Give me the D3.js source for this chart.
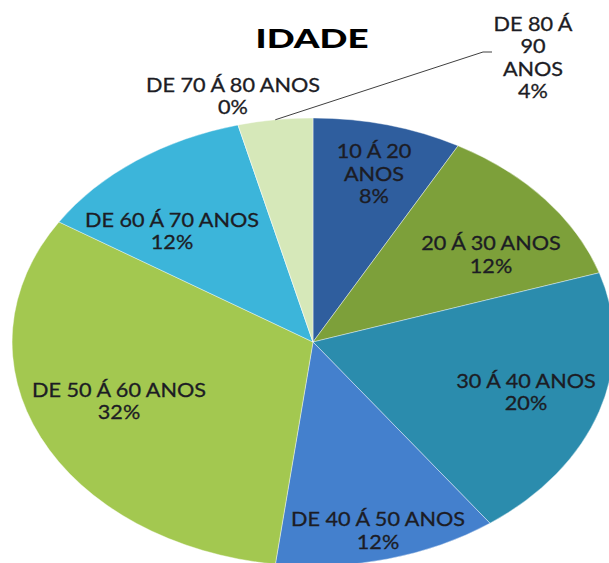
<!DOCTYPE html>
<html>
<head>
<meta charset="utf-8">
<script src="https://cdn.jsdelivr.net/npm/d3@7"></script>
<style>
  html, body { margin: 0; padding: 0; background: #ffffff; }
  svg { display: block; }
</style>
</head>
<body>
<svg id="chart" width="609" height="563"></svg>
<script>
// ---- data ----
const title = "IDADE";
const categories = ["10 Á 20 ANOS", "20 Á 30 ANOS", "30 Á 40 ANOS", "DE 40 Á 50 ANOS",
                    "DE 50 Á 60 ANOS", "DE 60 Á 70 ANOS", "DE 70 Á 80 ANOS", "DE 80 Á 90 ANOS"];
const values = [8, 12, 20, 12, 32, 12, 0, 4];
const labelLines = [
  ["10 Á 20", "ANOS"],
  ["20 Á 30 ANOS"],
  ["30 Á 40 ANOS"],
  ["DE 40 Á 50 ANOS"],
  ["DE 50 Á 60 ANOS"],
  ["DE 60 Á 70 ANOS"],
  ["DE 70 Á 80 ANOS"],
  ["DE 80 Á", "90", "ANOS"]
];

// ---- style / layout ----
const colors = ["#2F5E9E", "#7DA03A", "#2B8CAD", "#4480CD", "#A3C850", "#3CB5DA", "#C0504D", "#D6E8B9"];
const cx = 313, cy = 342, rx = 301, ry = 224;
// label block centres, relative to the pie centre
const labelOffset = [[61, -168], [178, -87], [213, 50.5], [65, 189], [-194, 59.5], [-141, -110.5], [-80, -245.5], [220, -284]];
const lineH = 22.5;
const textColor = "#1c1c24";
const fontFam = "Lato, 'Open Sans', sans-serif";
const labelSize = 18.5, labelStretch = 1.17;

const svg = d3.select("#chart");
const total = d3.sum(values);
const fmt = v => Math.round(v / total * 100) + "%";

const pie = d3.pie().sort(null).value(d => d)(values);
const arc = d3.arc().innerRadius(0).outerRadius(1);

const g = svg.append("g").attr("transform", `translate(${cx},${cy})`);
const pieG = g.append("g").attr("transform", `scale(${rx},${ry})`);
pieG.selectAll("path")
  .data(pie)
  .join("path")
  .attr("d", arc)
  .attr("fill", (d, i) => colors[i])
  .attr("stroke", "#ffffff")
  .attr("stroke-opacity", 0.5)
  .attr("stroke-width", 0.8)
  .attr("vector-effect", "non-scaling-stroke");

// leader line for the last slice
const last = pie[pie.length - 1];
const mid = (last.startAngle + last.endAngle) / 2;
const p0 = [Math.sin(mid) * rx, -Math.cos(mid) * ry];
const lo = labelOffset[labelOffset.length - 1];
const corner = [lo[0] - 50, -290];
const p2 = [lo[0] - 41, -290];
g.append("polyline")
  .attr("points", [p0, corner, p2].map(p => p.join(",")).join(" "))
  .attr("fill", "none")
  .attr("stroke", "#404040")
  .attr("stroke-width", 1);

// labels
pie.forEach((d, i) => {
  const lines = labelLines[i].concat([fmt(values[i])]);
  const [ox, oy] = labelOffset[i];
  const n = lines.length;
  const t = g.append("text")
    .attr("transform", `translate(${ox},${oy}) scale(${labelStretch},1)`)
    .attr("text-anchor", "middle")
    .attr("font-family", fontFam)
    .attr("font-size", labelSize)
    .attr("fill", textColor)
    .attr("stroke", textColor)
    .attr("stroke-width", 0.3);
  lines.forEach((s, k) => {
    t.append("tspan")
      .attr("x", 0)
      .attr("y", (k - (n - 1) / 2) * lineH + 6.5)
      .text(s);
  });
});

// title
svg.append("text")
  .attr("transform", `translate(312,48) scale(1.36,1)`)
  .attr("text-anchor", "middle")
  .attr("font-family", fontFam)
  .attr("font-weight", 900)
  .attr("font-size", 27)
  .attr("fill", "#000000")
  .text(title);
</script>
</body>
</html>
